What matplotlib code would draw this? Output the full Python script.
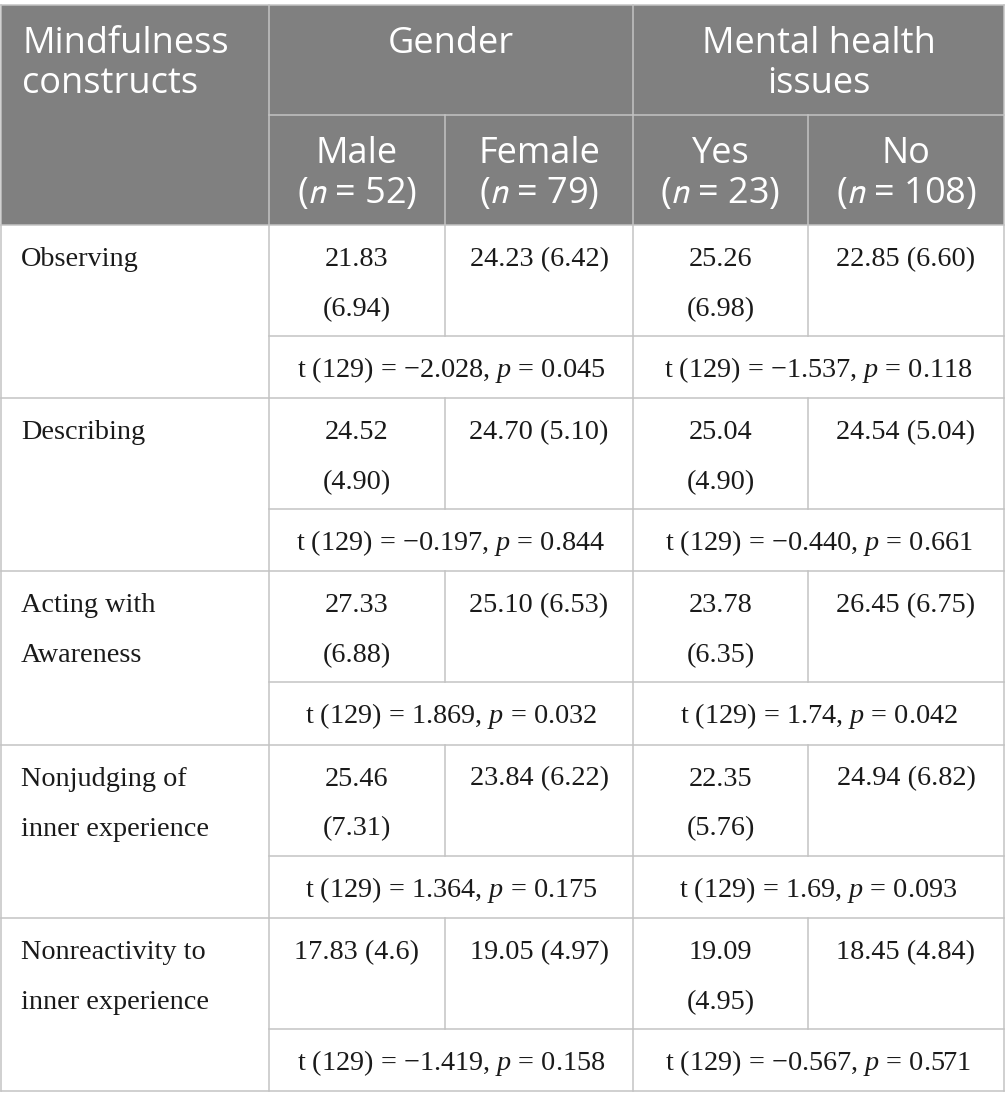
import matplotlib
matplotlib.use('Agg')
from matplotlib import pyplot as plt
from matplotlib.patches import Rectangle

plt.rcParams['mathtext.fontset'] = 'custom'
plt.rcParams['mathtext.rm'] = 'Liberation Serif'
plt.rcParams['mathtext.it'] = 'Liberation Serif:italic'

# table content
constructs = ['Observing', 'Describing', 'Acting with\nAwareness',
              'Nonjudging of\ninner experience', 'Nonreactivity to\ninner experience']
groups = ['Gender', 'Mental health\nissues']
subgroups = ['Male', 'Female', 'Yes', 'No']
sub_n = [52, 79, 23, 108]

male_mean = ['21.83', '24.52', '27.33', '25.46', '17.83']
male_sd = ['6.94', '4.90', '6.88', '7.31', '4.6']
female_mean = ['24.23', '24.70', '25.10', '23.84', '19.05']
female_sd = ['6.42', '5.10', '6.53', '6.22', '4.97']
yes_mean = ['25.26', '25.04', '23.78', '22.35', '19.09']
yes_sd = ['6.98', '4.90', '6.35', '5.76', '4.95']
no_mean = ['22.85', '24.54', '26.45', '24.94', '18.45']
no_sd = ['6.60', '5.04', '6.75', '6.82', '4.84']

gender_t = ['\u22122.028', '\u22120.197', '1.869', '1.364', '\u22121.419']
gender_p = ['0.045', '0.844', '0.032', '0.175', '0.158']
mh_t = ['\u22121.537', '\u22120.440', '1.74', '1.69', '\u22120.567']
mh_p = ['0.118', '0.661', '0.042', '0.093', '0.571']

# which cells break the sd onto a second line (as in the source layout)
male_wrap = [True, True, True, True, False]
female_wrap = [False] * 5
yes_wrap = [True] * 5
no_wrap = [False] * 5

# geometry in pixels
W, H = 1005, 1109
xs = [1, 269, 445, 633, 808, 1004]
top, mid_head, head_bot = 5, 115, 225
block_h, val_h = 173.2, 111
line_c = '#c3c3c3'
head_c = '#808080'
txt_c = '#1a1a1a'
serif = 'Liberation Serif'
sans = 'Open Sans'
hsize = 26
bsize = 20.3

fig = plt.figure(figsize=(W / 100, H / 100), dpi=100)
ax = fig.add_axes([0, 0, 1, 1])
ax.set_xlim(0, W)
ax.set_ylim(H, 0)
ax.axis('off')

bottom = head_bot + block_h * len(constructs)

# header background
ax.add_patch(Rectangle((xs[0], top), xs[-1] - xs[0], head_bot - top,
                       facecolor=head_c, edgecolor='none', zorder=0))

lw = 1.1
# outer / full verticals
for x in [xs[0], xs[1], xs[3], xs[5]]:
    ax.plot([x, x], [top, bottom], color=line_c, lw=lw, zorder=2)
# header lines
ax.plot([xs[0], xs[5]], [top, top], color=line_c, lw=lw, zorder=2)
ax.plot([xs[1], xs[5]], [mid_head, mid_head], color=line_c, lw=lw, zorder=2)
ax.plot([xs[0], xs[5]], [head_bot, head_bot], color=line_c, lw=lw, zorder=2)
for x in [xs[2], xs[4]]:
    ax.plot([x, x], [mid_head, head_bot], color=line_c, lw=lw, zorder=2)

# header text
hl = 40
for i, line in enumerate(['Mindfulness', 'constructs']):
    ax.text(22, 53 + i * hl, line, fontsize=hsize, family=sans, color='white',
            ha='left', va='baseline')
for g, (a, b) in zip(groups, [(xs[1], xs[3]), (xs[3], xs[5])]):
    for i, line in enumerate(g.split('\n')):
        ax.text((a + b) / 2, 53 + i * hl, line, fontsize=hsize, family=sans,
                color='white', ha='center', va='baseline')
for j, (s, n) in enumerate(zip(subgroups, sub_n)):
    cx = (xs[j + 1] + xs[j + 2]) / 2
    ax.text(cx, 163, s, fontsize=hsize, family=sans, color='white',
            ha='center', va='baseline')
    ax.text(cx, 203, '($n$ = %d)' % n, fontsize=hsize, family=sans, color='white',
            ha='center', va='baseline', math_fontfamily='stixsans')

# body
cols = [(male_mean, male_sd, male_wrap), (female_mean, female_sd, female_wrap),
        (yes_mean, yes_sd, yes_wrap), (no_mean, no_sd, no_wrap)]
tests = [(gender_t, gender_p), (mh_t, mh_p)]
bl1, bl2, blt = 41, 91, 152
for r, name in enumerate(constructs):
    y0 = head_bot + block_h * r
    ym = y0 + val_h
    y1 = y0 + block_h
    ax.plot([xs[1], xs[5]], [ym, ym], color=line_c, lw=lw, zorder=2)
    ax.plot([xs[0], xs[5]], [y1, y1], color=line_c, lw=lw, zorder=2)
    for x in [xs[2], xs[4]]:
        ax.plot([x, x], [y0, ym], color=line_c, lw=lw, zorder=2)

    for i, line in enumerate(name.split('\n')):
        ax.text(21, y0 + (bl1 if i == 0 else bl2), line, fontsize=bsize, family=serif,
                color=txt_c, ha='left', va='baseline')

    for j, (mean, sd, wrap) in enumerate(cols):
        cx = (xs[j + 1] + xs[j + 2]) / 2
        if wrap[r]:
            ax.text(cx, y0 + bl1, mean[r], fontsize=bsize, family=serif,
                    color=txt_c, ha='center', va='baseline')
            ax.text(cx, y0 + bl2, '(%s)' % sd[r], fontsize=bsize, family=serif,
                    color=txt_c, ha='center', va='baseline')
        else:
            ax.text(cx, y0 + bl1, '%s (%s)' % (mean[r], sd[r]), fontsize=bsize,
                    family=serif, color=txt_c, ha='center', va='baseline')

    for k, (tv, pv) in enumerate(tests):
        cx = (xs[2 * k + 1] + xs[2 * k + 3]) / 2
        ax.text(cx, y0 + blt, 't (129) = %s, $p$ = %s' % (tv[r], pv[r]),
                fontsize=bsize, family=serif, color=txt_c, ha='center',
                va='baseline', math_fontfamily='custom')

fig.savefig('out.png', dpi=100, facecolor='white')
